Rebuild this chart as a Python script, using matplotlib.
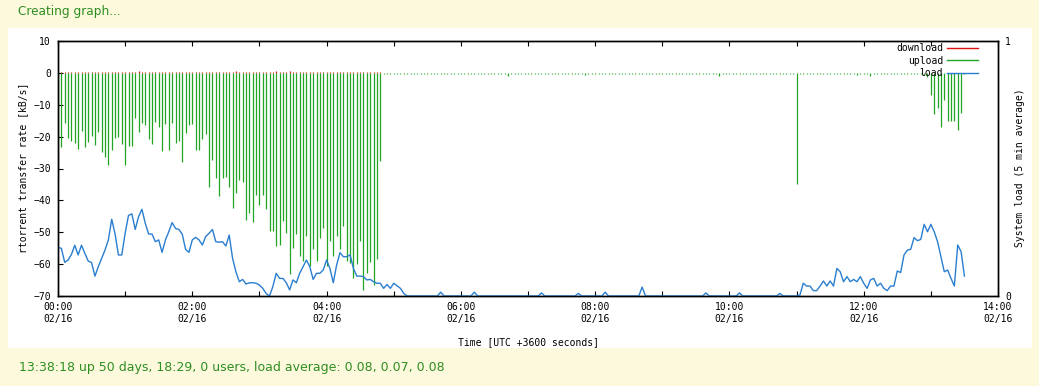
import matplotlib
matplotlib.use('Agg')
import matplotlib.pyplot as plt
from matplotlib.lines import Line2D
from matplotlib.patches import Rectangle
import numpy as np

## ----------------------------------------------------------------------------
## Data, one sample every 3 minutes starting at 00:00 02/16
## ----------------------------------------------------------------------------
STEP_MIN = 3

# upload rate [kB/s], gnuplot draws it negative
upload = [
    -33.2, -23.3, -15.6, -20.3, -21.3, -22.1, -23.9, -18.2, -23.4, -21.7,
    -19.7, -22.7, -18.6, -24.7, -26.5, -28.9, -24.3, -20.3, -20.1, -22.4,
    -28.9, -22.8, -22.9, -14.1, -18.4, -15.8, -16.4, -20.7, -22.4, -15.3,
    -17.1, -24.5, -16.1, -24.3, -15.8, -21.9, -21.4, -28.0, -18.8, -16.4,
    -16.1, -24.1, -24.3, -20.7, -19.3, -35.9, -27.3, -33.0, -38.6, -33.0,
    -32.7, -35.9, -42.4, -37.7, -33.5, -34.3, -46.0, -44.0, -46.8, -38.2,
    -41.4, -38.2, -42.7, -49.7, -49.5, -54.4, -53.9, -46.4, -50.2, -63.2,
    -54.9, -50.7, -57.3, -59.1, -51.3, -60.6, -55.4, -59.1, -51.8, -48.6,
    -60.6, -52.8, -57.5, -51.3, -55.4, -48.1, -58.9, -59.6, -64.3, -60.1,
    -52.8, -68.2, -62.7, -59.4, -66.6, -58.5, -27.6, -0.4, -0.4, -0.4,
    -0.4, -0.4, -0.4, -0.4, -0.4, -0.4, -0.4, -0.4, -0.4, -0.4,
    -0.4, -0.4, -0.4, -0.4, -0.4, -0.4, -0.4, -0.4, -0.4, -0.4,
    -0.4, -0.4, -0.4, -0.4, -0.4, -0.4, -0.4, -0.4, -0.4, -0.4,
    -0.4, -0.4, -0.4, -0.4, -1.0, -0.4, -0.4, -0.4, -0.4, -0.4,
    -0.4, -0.4, -0.4, -0.4, -0.4, -0.4, -0.4, -0.4, -0.4, -0.4,
    -0.4, -0.4, -0.4, -0.4, -0.4, -0.4, -0.4, -0.8, -0.4, -0.4,
    -0.4, -0.4, -0.4, -0.4, -0.4, -0.4, -0.4, -0.4, -0.4, -0.4,
    -0.4, -0.4, -0.4, -0.4, -0.4, -0.4, -0.4, -0.4, -0.4, -0.4,
    -0.4, -0.4, -0.4, -0.4, -0.4, -0.4, -0.4, -0.4, -0.4, -0.4,
    -0.4, -0.4, -0.4, -0.4, -0.4, -0.4, -0.4, -1.0, -0.4, -0.4,
    -0.4, -0.4, -0.4, -0.4, -0.4, -0.4, -0.4, -0.4, -0.4, -0.4,
    -0.4, -0.4, -0.4, -0.4, -0.4, -0.4, -0.4, -0.4, -0.4, -0.4,
    -35.0, -0.4, -0.4, -0.4, -0.4, -0.4, -0.4, -0.4, -0.4, -0.4,
    -0.4, -0.4, -0.4, -0.4, -0.4, -0.4, -0.4, -0.4, -0.8, -0.4,
    -0.4, -0.4, -1.0, -0.4, -0.4, -0.4, -0.4, -0.4, -0.4, -0.4,
    -0.4, -0.4, -0.4, -0.4, -0.4, -0.4, -0.4, -0.4, -0.6, -1.2,
    -7.0, -13.0, -11.0, -17.0, -8.5, -15.0, -15.0, -15.0, -18.0, -12.6,
    -0.4,
]

# download rate [kB/s], only the first hours
download = [
    0.3, 0.3, 0.3, 0.3, 0.3, 0.3, 0.3, 0.3, 0.3, 0.3,
    0.3, 0.3, 0.3, 0.3, 0.3, 0.3, 0.3, 0.3, 0.3, 0.3,
    0.3, 0.3, 0.3, 0.3, 0.6, 0.3, 0.3, 0.3, 0.3, 0.3,
    0.3, 0.3, 0.3, 0.3, 0.3, 0.3, 0.3, 0.3, 0.3, 0.3,
    0.3, 0.3, 0.3, 0.3, 0.3, 0.3, 0.3, 0.3, 0.3, 0.3,
    0.3, 0.3, 0.3, 0.6, 0.3, 0.3, 0.3, 0.3, 0.3, 0.3,
    0.3, 0.3, 0.3, 0.3, 0.3, 0.6, 0.3, 0.3, 0.3, 0.6,
    0.3, 0.3, 0.3, 0.3, 0.3, 0.3, 0.3, 0.3, 0.3, 0.3,
    0.3, 0.3, 0.3, 0.3, 0.3, 0.3, 0.3, 0.3, 0.3, 0.3,
    0.3, 0.3, 0.3, 0.3, 0.3, 0.3, 0.3,
]

# system load, 5 min average
load = [
    0.191, 0.187, 0.132, 0.141, 0.163, 0.199, 0.161, 0.199, 0.167, 0.137,
    0.131, 0.078, 0.115, 0.148, 0.180, 0.220, 0.301, 0.243, 0.161, 0.161,
    0.246, 0.316, 0.322, 0.261, 0.311, 0.340, 0.285, 0.243, 0.243, 0.213,
    0.220, 0.171, 0.220, 0.252, 0.288, 0.265, 0.261, 0.243, 0.183, 0.171,
    0.220, 0.230, 0.220, 0.200, 0.233, 0.246, 0.261, 0.213, 0.211, 0.213,
    0.196, 0.239, 0.148, 0.095, 0.056, 0.065, 0.047, 0.052, 0.052, 0.050,
    0.043, 0.030, 0.010, 0.000, 0.037, 0.089, 0.069, 0.069, 0.052, 0.024,
    0.063, 0.052, 0.089, 0.115, 0.141, 0.115, 0.065, 0.089, 0.089, 0.102,
    0.141, 0.108, 0.052, 0.122, 0.170, 0.154, 0.154, 0.161, 0.108, 0.078,
    0.078, 0.076, 0.063, 0.065, 0.056, 0.050, 0.050, 0.030, 0.045, 0.030,
    0.050, 0.040, 0.030, 0.010, 0.000, 0.000, 0.000, 0.000, 0.000, 0.000,
    0.000, 0.000, 0.000, 0.000, 0.015, 0.000, 0.000, 0.000, 0.000, 0.000,
    0.000, 0.000, 0.000, 0.000, 0.015, 0.000, 0.000, 0.000, 0.000, 0.000,
    0.000, 0.000, 0.000, 0.000, 0.000, 0.000, 0.000, 0.000, 0.000, 0.000,
    0.000, 0.000, 0.000, 0.000, 0.012, 0.000, 0.000, 0.000, 0.000, 0.000,
    0.000, 0.000, 0.000, 0.000, 0.000, 0.010, 0.000, 0.000, 0.000, 0.000,
    0.000, 0.000, 0.000, 0.015, 0.000, 0.000, 0.000, 0.000, 0.000, 0.000,
    0.000, 0.000, 0.000, 0.000, 0.035, 0.000, 0.000, 0.000, 0.000, 0.000,
    0.000, 0.000, 0.000, 0.000, 0.000, 0.000, 0.000, 0.000, 0.000, 0.000,
    0.000, 0.000, 0.000, 0.012, 0.000, 0.000, 0.000, 0.000, 0.000, 0.000,
    0.000, 0.000, 0.000, 0.012, 0.000, 0.000, 0.000, 0.000, 0.000, 0.000,
    0.000, 0.000, 0.000, 0.000, 0.000, 0.010, 0.000, 0.000, 0.000, 0.000,
    0.000, 0.004, 0.050, 0.039, 0.039, 0.021, 0.021, 0.039, 0.059, 0.039,
    0.059, 0.039, 0.108, 0.095, 0.056, 0.076, 0.056, 0.065, 0.056, 0.076,
    0.050, 0.030, 0.063, 0.069, 0.039, 0.050, 0.030, 0.021, 0.039, 0.039,
    0.098, 0.092, 0.161, 0.180, 0.183, 0.229, 0.217, 0.222, 0.281, 0.252,
    0.281, 0.252, 0.213, 0.154, 0.095, 0.102, 0.069, 0.039, 0.200, 0.174,
    0.078,
]

hour_ticks = list(range(0, 15))
date_label = '02/16'

title_text = 'Creating graph...'
uptime_text = '13:38:18 up 50 days, 18:29, 0 users, load average: 0.08, 0.07, 0.08'

## ----------------------------------------------------------------------------
## Style
## ----------------------------------------------------------------------------
W, H = 1039, 386
BG = '#fdf9dd'
TXT_GREEN = '#2e8f22'
RED = '#e01010'
GREEN = '#22a522'
BLUE = '#2a7ed0'
MONO = 'DejaVu Sans Mono'


def px(x, y):
    ## pixel position (from top left) to figure fraction
    return x / W, 1 - y / H


def main():
    plt.rcParams['font.family'] = MONO
    plt.rcParams['font.size'] = 7

    t_up = np.arange(len(upload)) * STEP_MIN / 60.0
    t_dl = np.arange(len(download)) * STEP_MIN / 60.0
    t_load = np.arange(len(load)) * STEP_MIN / 60.0

    fig = plt.figure(figsize=(W / 100, H / 100), dpi=100)
    fig.patch.set_facecolor(BG)

    ## white panel behind the gnuplot image
    x0, y0 = px(8, 348)
    fig.patches.append(Rectangle((x0, y0), 1024 / W, 320 / H,
                                 transform=fig.transFigure, facecolor='white',
                                 edgecolor='none', zorder=-10))

    l, b = px(58, 296)
    ax = fig.add_axes([l, b, 940 / W, 255 / H])
    ax.set_zorder(1)
    ax.set_facecolor('white')

    ## impulses for the transfer rates
    ax.vlines(t_dl, 0, download, colors=RED, lw=0.9)
    ax.vlines(t_up, 0, upload, colors=GREEN, lw=0.9)

    ax.set_xlim(0, 14)
    ax.set_ylim(-70, 10)
    ax.set_yticks(range(-70, 11, 10))
    ax.set_xticks(hour_ticks)
    ax.set_xticklabels(['%02d:00\n%s' % (h, date_label) if h % 2 == 0 else ''
                        for h in hour_ticks], linespacing=1.35)
    ax.tick_params(axis='x', direction='in', length=3.5, width=0.8, top=True,
                   pad=4, labelsize=7)
    ax.tick_params(axis='y', direction='in', length=3.5, width=0.8, right=False,
                   pad=5, labelsize=7)

    ## load on the second axis
    ax2 = ax.twinx()
    ax2.set_zorder(2)
    ax2.plot(t_load, load, color=BLUE, lw=1.0)
    ax2.set_ylim(0, 1)
    ax2.set_yticks([0, 1])
    ax2.tick_params(axis='y', direction='in', length=0, pad=5, labelsize=7)

    for a in (ax, ax2):
        for s in a.spines.values():
            s.set_linewidth(1.0)

    ## legend, gnuplot style: text first, sample after
    handles = [Line2D([], [], color=RED, lw=1.0),
               Line2D([], [], color=GREEN, lw=1.0),
               Line2D([], [], color=BLUE, lw=1.0)]
    ax2.legend(handles, ['download', 'upload', 'load'], loc='upper right',
               bbox_to_anchor=px(978, 43), bbox_transform=fig.transFigure,
               frameon=False, markerfirst=False, handlelength=3.2,
               handletextpad=0.4, labelspacing=0.28, borderpad=0,
               borderaxespad=0, fontsize=7)

    ## axis labels
    fig.text(*px(23, 168), 'rtorrent transfer rate [kB/s]', rotation=90,
             ha='center', va='center', fontsize=7)
    fig.text(*px(1020, 168), 'System load (5 min average)', rotation=90,
             ha='center', va='center', fontsize=7)
    fig.text(*px(528, 342), 'Time [UTC +3600 seconds]', ha='center',
             va='center', fontsize=7)

    ## page text around the image
    fig.text(*px(18, 12), title_text, ha='left', va='center', fontsize=8.7,
             family='DejaVu Sans', color=TXT_GREEN)
    fig.text(*px(19, 368), uptime_text, ha='left', va='center', fontsize=9,
             family='DejaVu Sans', color=TXT_GREEN)

    fig.savefig('out.png', dpi=100, facecolor=fig.get_facecolor())


if __name__ == "__main__":
    main()
